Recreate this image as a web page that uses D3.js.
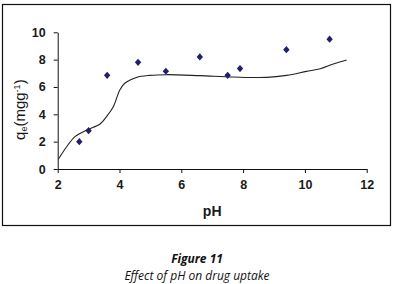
<!DOCTYPE html>
<html>
<head>
<meta charset="utf-8">
<script src="https://cdn.jsdelivr.net/npm/d3@7"></script>
<style>
  body { margin: 0; background: #fff; }
  svg { display: block; }
</style>
</head>
<body>
<div id="chart"></div>
<script>
// Measured points: pH vs qe
var phPoints = [2.7, 3.0, 3.6, 4.6, 5.5, 6.6, 7.5, 7.9, 9.4, 10.8];
var qePoints = [2.0, 2.8, 6.85, 7.8, 7.15, 8.2, 6.85, 7.35, 8.73, 9.5];

// Fitted curve
var phCurve = [2.02, 2.29, 2.56, 2.94, 3.37, 3.58, 3.8, 4.01, 4.17, 4.55, 4.98, 5.52, 6.6, 7.68, 8.76, 9.41, 10.05, 10.5, 10.92, 11.35];
var qeCurve = [0.71, 1.63, 2.37, 2.85, 3.29, 3.83, 4.56, 5.78, 6.27, 6.7, 6.85, 6.9, 6.83, 6.73, 6.7, 6.85, 7.14, 7.34, 7.68, 7.97];

var xTicks = [2, 4, 6, 8, 10, 12];
var yTicks = [0, 2, 4, 6, 8, 10];

var W = 396, H = 284;
var plot = { left: 57.7, right: 366.7, top: 32.3, bottom: 169 };

var svg = d3.select("#chart")
  .append("svg")
    .attr("width", W)
    .attr("height", H);

// outer frame
svg.append("rect")
    .attr("x", 2.5)
    .attr("y", 4.5)
    .attr("width", 388)
    .attr("height", 221)
    .attr("fill", "none")
    .attr("stroke", "#111")
    .attr("stroke-width", 1.2);

var x = d3.scaleLinear().domain([2, 12]).range([plot.left, plot.right]);
var y = d3.scaleLinear().domain([0, 10]).range([plot.bottom, plot.top]);

var xAxis = svg.append("g")
    .attr("transform", "translate(0," + plot.bottom + ")")
    .call(d3.axisBottom(x).tickValues(xTicks).tickSize(4).tickSizeOuter(0).tickPadding(7));

var yAxis = svg.append("g")
    .attr("transform", "translate(" + plot.left + ",0)")
    .call(d3.axisLeft(y).tickValues(yTicks).tickSize(4).tickSizeOuter(0).tickPadding(8));

[xAxis, yAxis].forEach(function (g) {
  g.select(".domain").attr("stroke", "#111");
  g.selectAll(".tick line").attr("stroke", "#111");
  g.selectAll("text")
    .attr("fill", "#1a1a1a")
    .style("font-family", "'Liberation Sans', Arial, sans-serif")
    .style("font-size", "12.5px")
    .style("font-weight", "bold");
});

// x axis title
svg.append("text")
    .attr("x", (plot.left + plot.right) / 2)
    .attr("y", 216)
    .attr("text-anchor", "middle")
    .style("font-family", "'Liberation Sans', Arial, sans-serif")
    .style("font-size", "14px")
    .style("font-weight", "bold")
    .attr("fill", "#1a1a1a")
    .text("pH");

// y axis title
var yTitle = svg.append("text")
    .attr("transform", "translate(25," + ((plot.top + plot.bottom) / 2 + 9) + ") rotate(-90)")
    .attr("text-anchor", "middle")
    .style("font-family", "'Liberation Sans', Arial, sans-serif")
    .style("font-size", "15px")
    .attr("fill", "#1a1a1a");
yTitle.append("tspan").text("q");
yTitle.append("tspan").attr("baseline-shift", "-25%").style("font-size", "9px").text("e");
yTitle.append("tspan").text("(mgg");
yTitle.append("tspan").attr("baseline-shift", "super").style("font-size", "9px").text("-1");
yTitle.append("tspan").text(")");

// fitted curve
var curveData = phCurve.map(function (d, i) { return [d, qeCurve[i]]; });
svg.append("path")
    .datum(curveData)
    .attr("fill", "none")
    .attr("stroke", "#222")
    .attr("stroke-width", 1.1)
    .attr("d", d3.line()
      .x(function (d) { return x(d[0]); })
      .y(function (d) { return y(d[1]); })
      .curve(d3.curveCatmullRom));

// measured points as diamonds
var pointData = phPoints.map(function (d, i) { return [d, qePoints[i]]; });
svg.selectAll(".pt")
  .data(pointData)
  .enter()
  .append("path")
    .attr("class", "pt")
    .attr("transform", function (d) { return "translate(" + x(d[0]) + "," + y(d[1]) + ")"; })
    .attr("d", "M0,-3.6L3.2,0L0,3.6L-3.2,0Z")
    .attr("fill", "#1f1f6b");

// caption
svg.append("text")
    .attr("x", 197)
    .attr("y", 263)
    .attr("text-anchor", "middle")
    .style("font-family", "'Open Sans', sans-serif")
    .style("font-size", "12px")
    .style("font-style", "italic")
    .style("font-weight", "bold")
    .attr("fill", "#111")
    .text("Figure 11");

svg.append("text")
    .attr("x", 197)
    .attr("y", 280)
    .attr("text-anchor", "middle")
    .style("font-family", "'Open Sans', sans-serif")
    .style("font-size", "12px")
    .style("font-style", "italic")
    .attr("fill", "#111")
    .text("Effect of pH on drug uptake");
</script>
</body>
</html>
